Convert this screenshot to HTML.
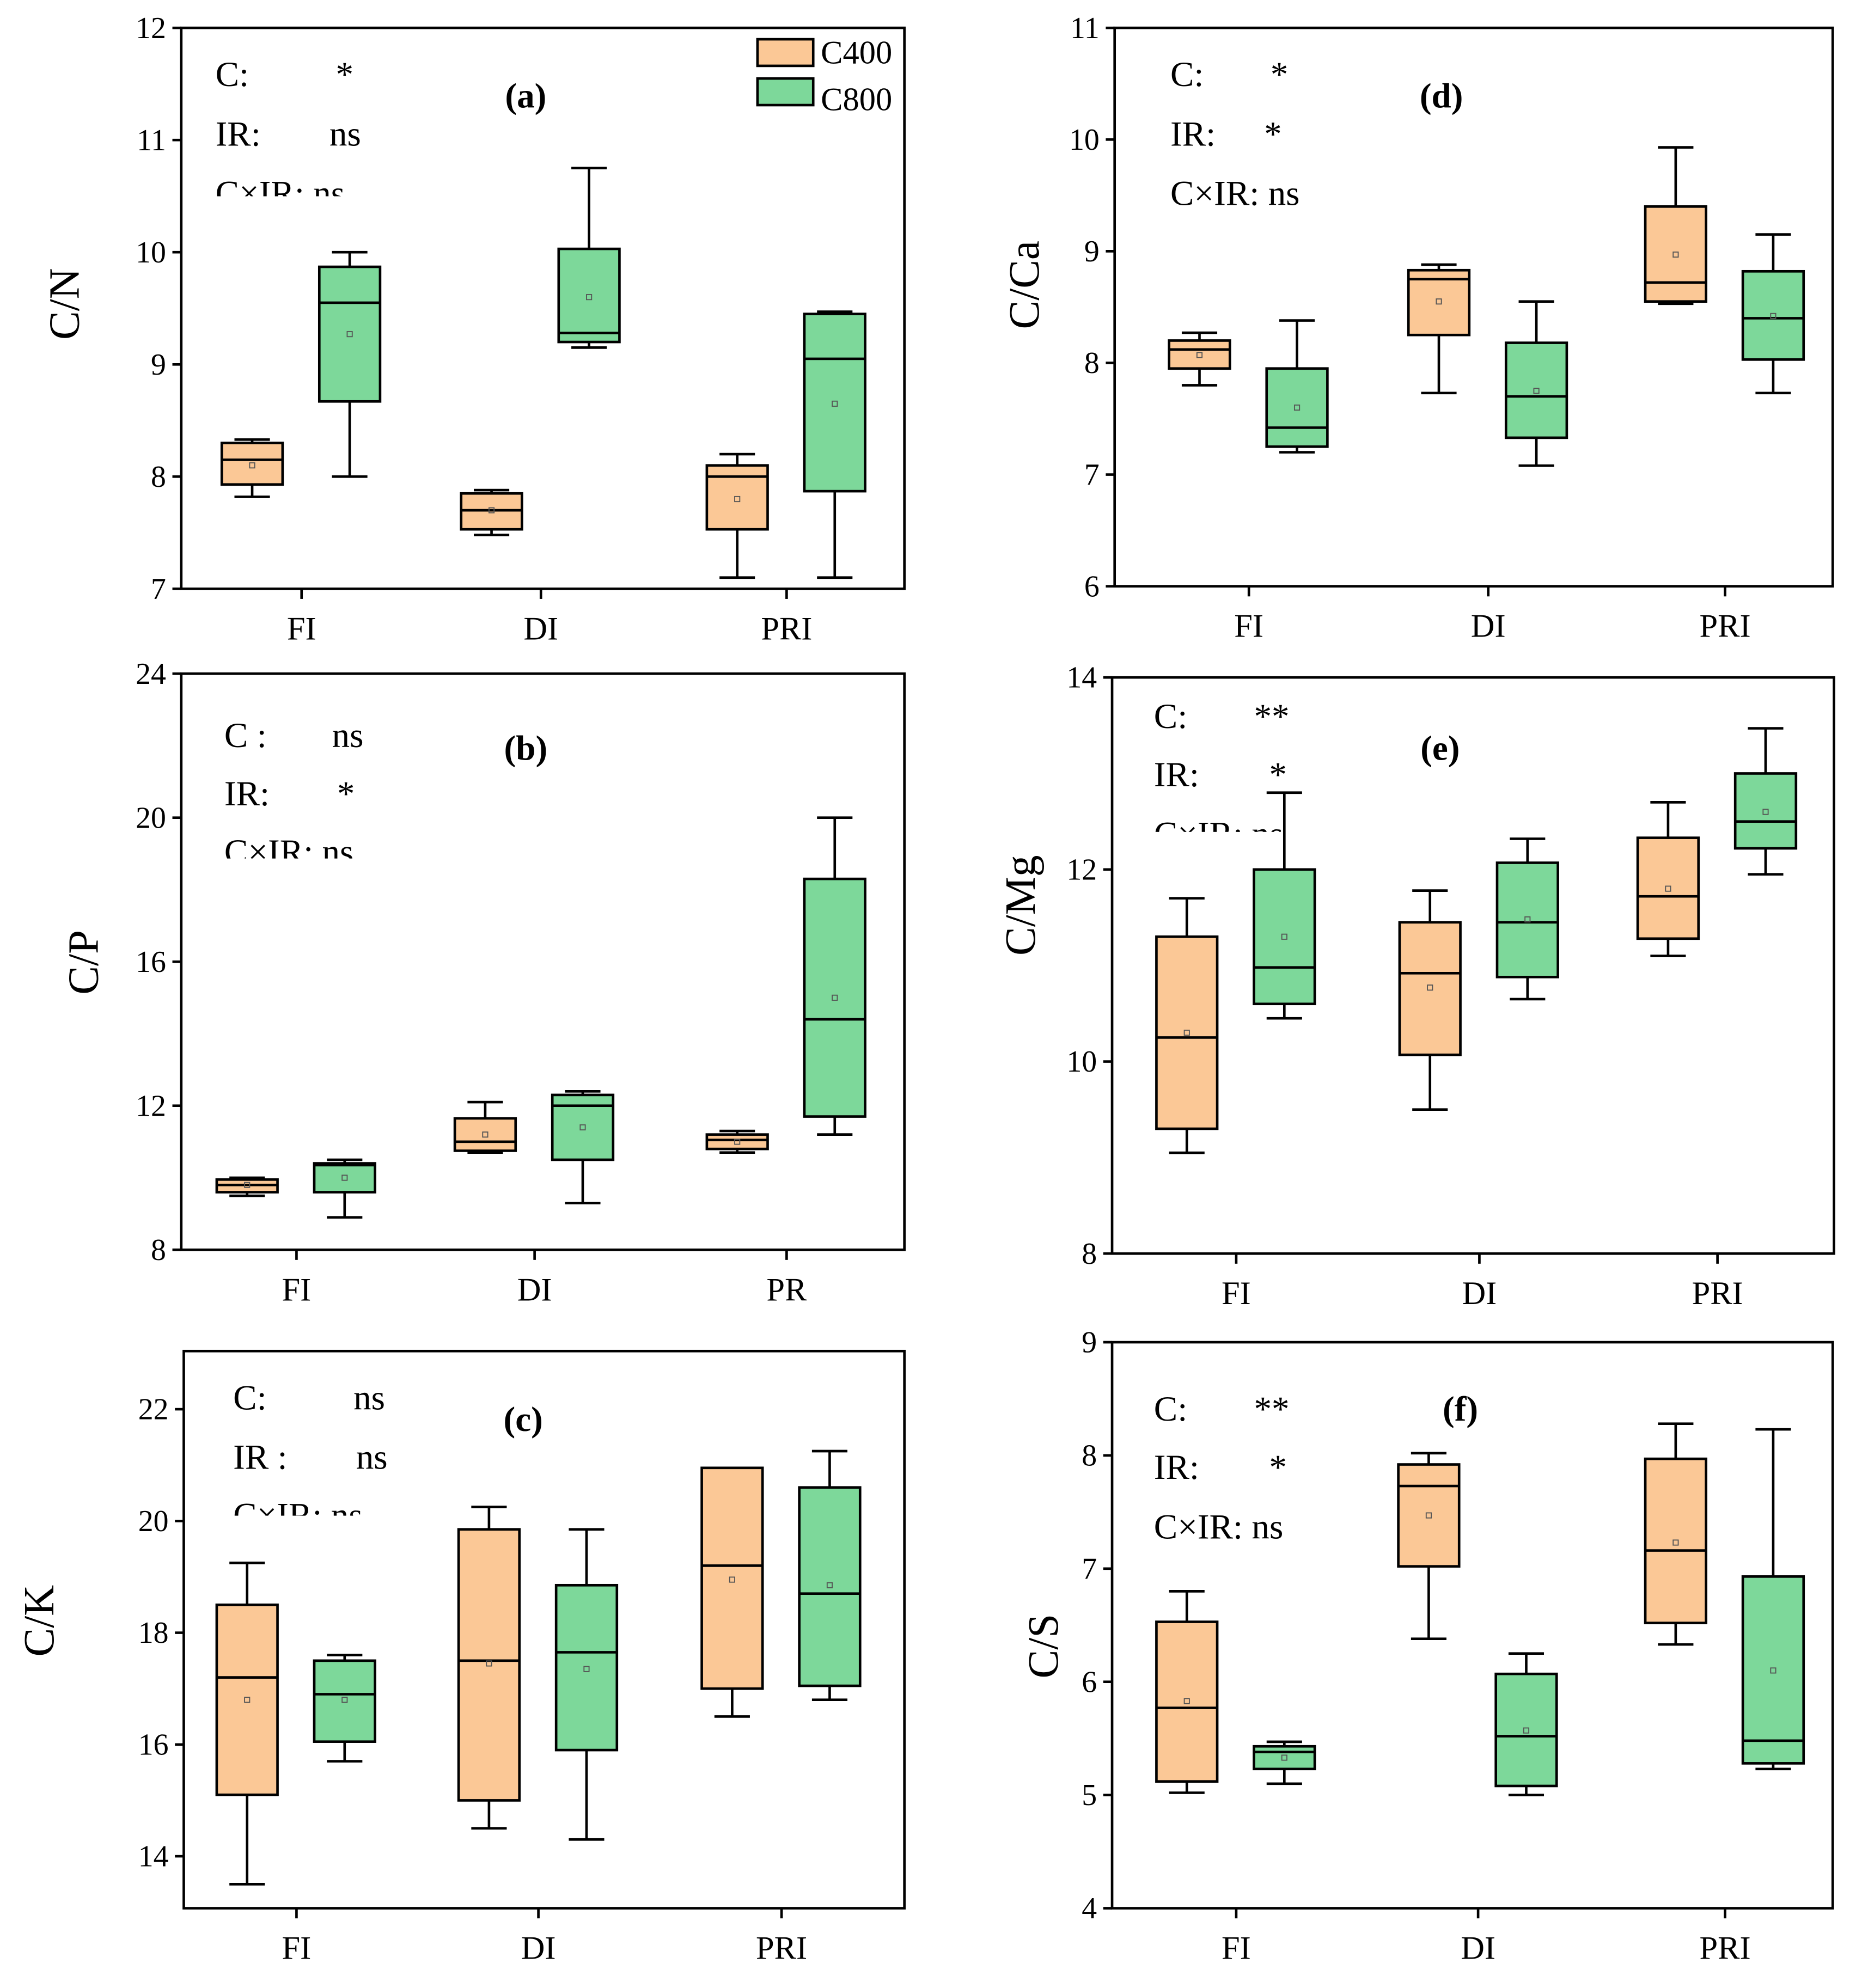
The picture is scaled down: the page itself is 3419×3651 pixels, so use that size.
<!DOCTYPE html>
<html><head><meta charset="utf-8"><style>
html,body{margin:0;padding:0;background:#fff}
svg{display:block}
text{font-family:"Liberation Serif",serif;fill:#000}
</style></head><body>
<svg id="chart" width="3419" height="3651" viewBox="0 0 1470 1570" xmlns="http://www.w3.org/2000/svg"></svg>
<script>
// Data arrays: each box = [min, q1, median, q3, max, mean]
const categoriesA = ["FI","DI","PRI"];
const c400A = [[7.82,7.93,8.15,8.30,8.33,8.1],[7.48,7.53,7.70,7.85,7.88,7.7],[7.1,7.53,8.0,8.1,8.2,7.8]];
const c800A = [[8.0,8.67,9.55,9.87,10.0,9.27],[9.15,9.2,9.28,10.03,10.75,9.6],[7.1,7.87,9.05,9.45,9.47,8.65]];
const ticksA = [7,8,9,10,11,12];

const categoriesB = ["FI","DI","PR"];
const c400B = [[9.5,9.6,9.8,9.95,10.0,9.8],[10.7,10.75,11.0,11.65,12.1,11.2],[10.7,10.8,11.05,11.2,11.3,11.0]];
const c800B = [[8.9,9.6,10.35,10.4,10.5,10.0],[9.3,10.5,12.0,12.3,12.4,11.4],[11.2,11.7,14.4,18.3,20.0,15.0]];
const ticksB = [8,12,16,20,24];

const categoriesC = ["FI","DI","PRI"];
const c400C = [[13.5,15.1,17.2,18.5,19.25,16.8],[14.5,15.0,17.5,19.85,20.25,17.45],[16.5,17.0,19.2,20.95,20.95,18.95]];
const c800C = [[15.7,16.05,16.9,17.5,17.6,16.8],[14.3,15.9,17.65,18.85,19.85,17.35],[16.8,17.05,18.7,20.6,21.25,18.85]];
const ticksC = [14,16,18,20,22];

const categoriesD = ["FI","DI","PRI"];
const c400D = [[7.8,7.95,8.12,8.2,8.27,8.07],[7.73,8.25,8.75,8.83,8.88,8.55],[8.53,8.55,8.72,9.4,9.93,8.97]];
const c800D = [[7.2,7.25,7.42,7.95,8.38,7.6],[7.08,7.33,7.7,8.18,8.55,7.75],[7.73,8.03,8.4,8.82,9.15,8.42]];
const ticksD = [6,7,8,9,10,11];

const categoriesE = ["FI","DI","PRI"];
const c400E = [[9.05,9.3,10.25,11.3,11.7,10.3],[9.5,10.07,10.92,11.45,11.78,10.77],[11.1,11.28,11.72,12.33,12.7,11.8]];
const c800E = [[10.45,10.6,10.98,12.0,12.8,11.3],[10.65,10.88,11.45,12.07,12.32,11.48],[11.95,12.22,12.5,13.0,13.47,12.6]];
const ticksE = [8,10,12,14];

const categoriesF = ["FI","DI","PRI"];
const c400F = [[5.02,5.12,5.77,6.53,6.8,5.83],[6.38,7.02,7.73,7.92,8.02,7.47],[6.33,6.52,7.16,7.97,8.28,7.23]];
const c800F = [[5.1,5.23,5.38,5.43,5.47,5.33],[5.0,5.08,5.52,6.07,6.25,5.57],[5.23,5.28,5.48,6.93,8.23,6.1]];
const ticksF = [4,5,6,7,8,9];

const svg = document.getElementById('chart');
const NS = 'http://www.w3.org/2000/svg';
function el(tag, attrs, parent){const e=document.createElementNS(NS,tag);for(const k in attrs)e.setAttribute(k,attrs[k]);(parent||svg).appendChild(e);return e;}
function txt(s,x,y,size,attrs,parent){const t=el('text',Object.assign({x:x,y:y,'font-size':size},attrs||{}),parent);t.textContent=s;return t;}

const panels = [
 {id:'a',L:143,R:714,T:22,B:465,ymin:7,ymax:12,ticks:ticksA,cats:categoriesA,catX:[238,427,621],c4:c400A,c8:c800A,title:'C/N',tx:50,ty:240,
  stats:[['C:',170,68,'*',265],['IR:',170,115,'ns',260],['C×IR: ns',170,162,null,0]],clip:155,lab:[415,85]},
 {id:'b',L:143,R:714,T:532,B:987,ymin:8,ymax:24,ticks:ticksB,cats:categoriesB,catX:[234,422,621],c4:c400B,c8:c800B,title:'C/P',tx:65,ty:760,
  stats:[['C :',177,590,'ns',262],['IR:',177,636,'*',266],['C×IR: ns',177,682,null,0]],clip:678,lab:[415,600]},
 {id:'c',L:145,R:714,T:1067,B:1507,ymin:13.07,ymax:23.04,ticks:ticksC,cats:categoriesC,catX:[234,425,617],c4:c400C,c8:c800C,title:'C/K',tx:30,ty:1280,
  stats:[['C:',184,1113,'ns',279],['IR :',184,1160,'ns',281],['C×IR: ns',184,1206,null,0]],clip:1197,lab:[413,1130]},
 {id:'d',L:880,R:1447,T:22,B:463,ymin:6,ymax:11,ticks:ticksD,cats:categoriesD,catX:[986,1175,1362],c4:c400D,c8:c800D,title:'C/Ca',tx:808,ty:225,
  stats:[['C:',924,68,'*',1003],['IR:',924,115,'*',998],['C×IR: ns',924,162,null,0]],clip:null,lab:[1138,85]},
 {id:'e',L:878,R:1448,T:535,B:990,ymin:8,ymax:14,ticks:ticksE,cats:categoriesE,catX:[976,1168,1356],c4:c400E,c8:c800E,title:'C/Mg',tx:805,ty:715,
  stats:[['C:',911,575,'**',990],['IR:',911,621,'*',1002],['C×IR: ns',911,668,null,0]],clip:657,lab:[1137,600]},
 {id:'f',L:878,R:1447,T:1060,B:1507,ymin:4,ymax:9,ticks:ticksF,cats:categoriesF,catX:[976,1167,1362],c4:c400F,c8:c800F,title:'C/S',tx:823,ty:1300,
  stats:[['C:',911,1122,'**',990],['IR:',911,1168,'*',1002],['C×IR: ns',911,1215,null,0]],clip:null,lab:[1153,1122]}
];

function drawBox(g,p,cx,d,fill,name){
  const y=v=>p.B-(v-p.ymin)/(p.ymax-p.ymin)*(p.B-p.T);
  const bw=48,cw=28;
  const bg=el('g',{},g);
  
  
  const ln={stroke:'#000','stroke-width':2};
  el('line',Object.assign({x1:cx,x2:cx,y1:y(d[0]),y2:y(d[4])},ln),bg);
  el('line',Object.assign({x1:cx-cw/2,x2:cx+cw/2,y1:y(d[0]),y2:y(d[0])},ln),bg);
  el('line',Object.assign({x1:cx-cw/2,x2:cx+cw/2,y1:y(d[4]),y2:y(d[4])},ln),bg);
  el('rect',{x:cx-bw/2,y:y(d[3]),width:bw,height:y(d[1])-y(d[3]),fill:fill,stroke:'#000','stroke-width':2},bg);
  el('line',Object.assign({x1:cx-bw/2,x2:cx+bw/2,y1:y(d[2]),y2:y(d[2])},ln),bg);
  el('rect',{x:cx-2,y:y(d[5])-2,width:4,height:4,fill:'none',stroke:'#555','stroke-width':0.8},bg);
}

panels.forEach(p=>{
  const g=el('g',{});
  
  
  const y=v=>p.B-(v-p.ymin)/(p.ymax-p.ymin)*(p.B-p.T);
  // stats first (with clip mask) so boxes draw on top
  const sg=el('g',{},g);
  
  
  p.stats.forEach(s=>{
    txt(s[0],s[1],s[2],28,{},sg);
    if(s[3]) txt(s[3],s[4],s[2],28,{},sg);
  });
  if(p.clip) el('rect',{x:p.stats[2][1]-2,y:p.clip,width:150,height:20,fill:'#fff'},sg);

  const fr=el('rect',{x:p.L,y:p.T,width:p.R-p.L,height:p.B-p.T,fill:'none',stroke:'#000','stroke-width':2},g);
  
  
  p.ticks.forEach(t=>{
    el('line',{x1:p.L-7,x2:p.L,y1:y(t),y2:y(t),stroke:'#000','stroke-width':2},g);
    const tl=txt(String(t),p.L-12,y(t)+8,24,{'text-anchor':'end'},g);
    
    
  });
  p.cats.forEach((c,i)=>{
    const cx=p.catX[i];
    el('line',{x1:cx,x2:cx,y1:p.B,y2:p.B+8,stroke:'#000','stroke-width':2},g);
    const cl=txt(c,cx,p.B+40,26,{'text-anchor':'middle'},g);
    
    
    drawBox(g,p,cx-39,p.c4[i],'#FBC896','box-c400-'+c);
    drawBox(g,p,cx+38,p.c8[i],'#7DD89A','box-c800-'+c);
  });
  const at=txt(p.title,0,0,34,{'text-anchor':'middle',transform:'translate('+(p.tx+12)+','+p.ty+') rotate(-90)'},g);
  
  
  const pl=txt('('+p.id+')',p.lab[0],p.lab[1],28,{'text-anchor':'middle','font-weight':'bold'},g);
  
  
});

// legend
const lg=el('g',{});


el('rect',{x:598,y:31,width:44,height:21,fill:'#FBC896',stroke:'#000','stroke-width':2},lg);
el('rect',{x:598,y:62,width:44,height:21,fill:'#7DD89A',stroke:'#000','stroke-width':2},lg);
txt('C400',648,50,26,{},lg);
txt('C800',648,87,26,{},lg);
</script>
</body></html>
